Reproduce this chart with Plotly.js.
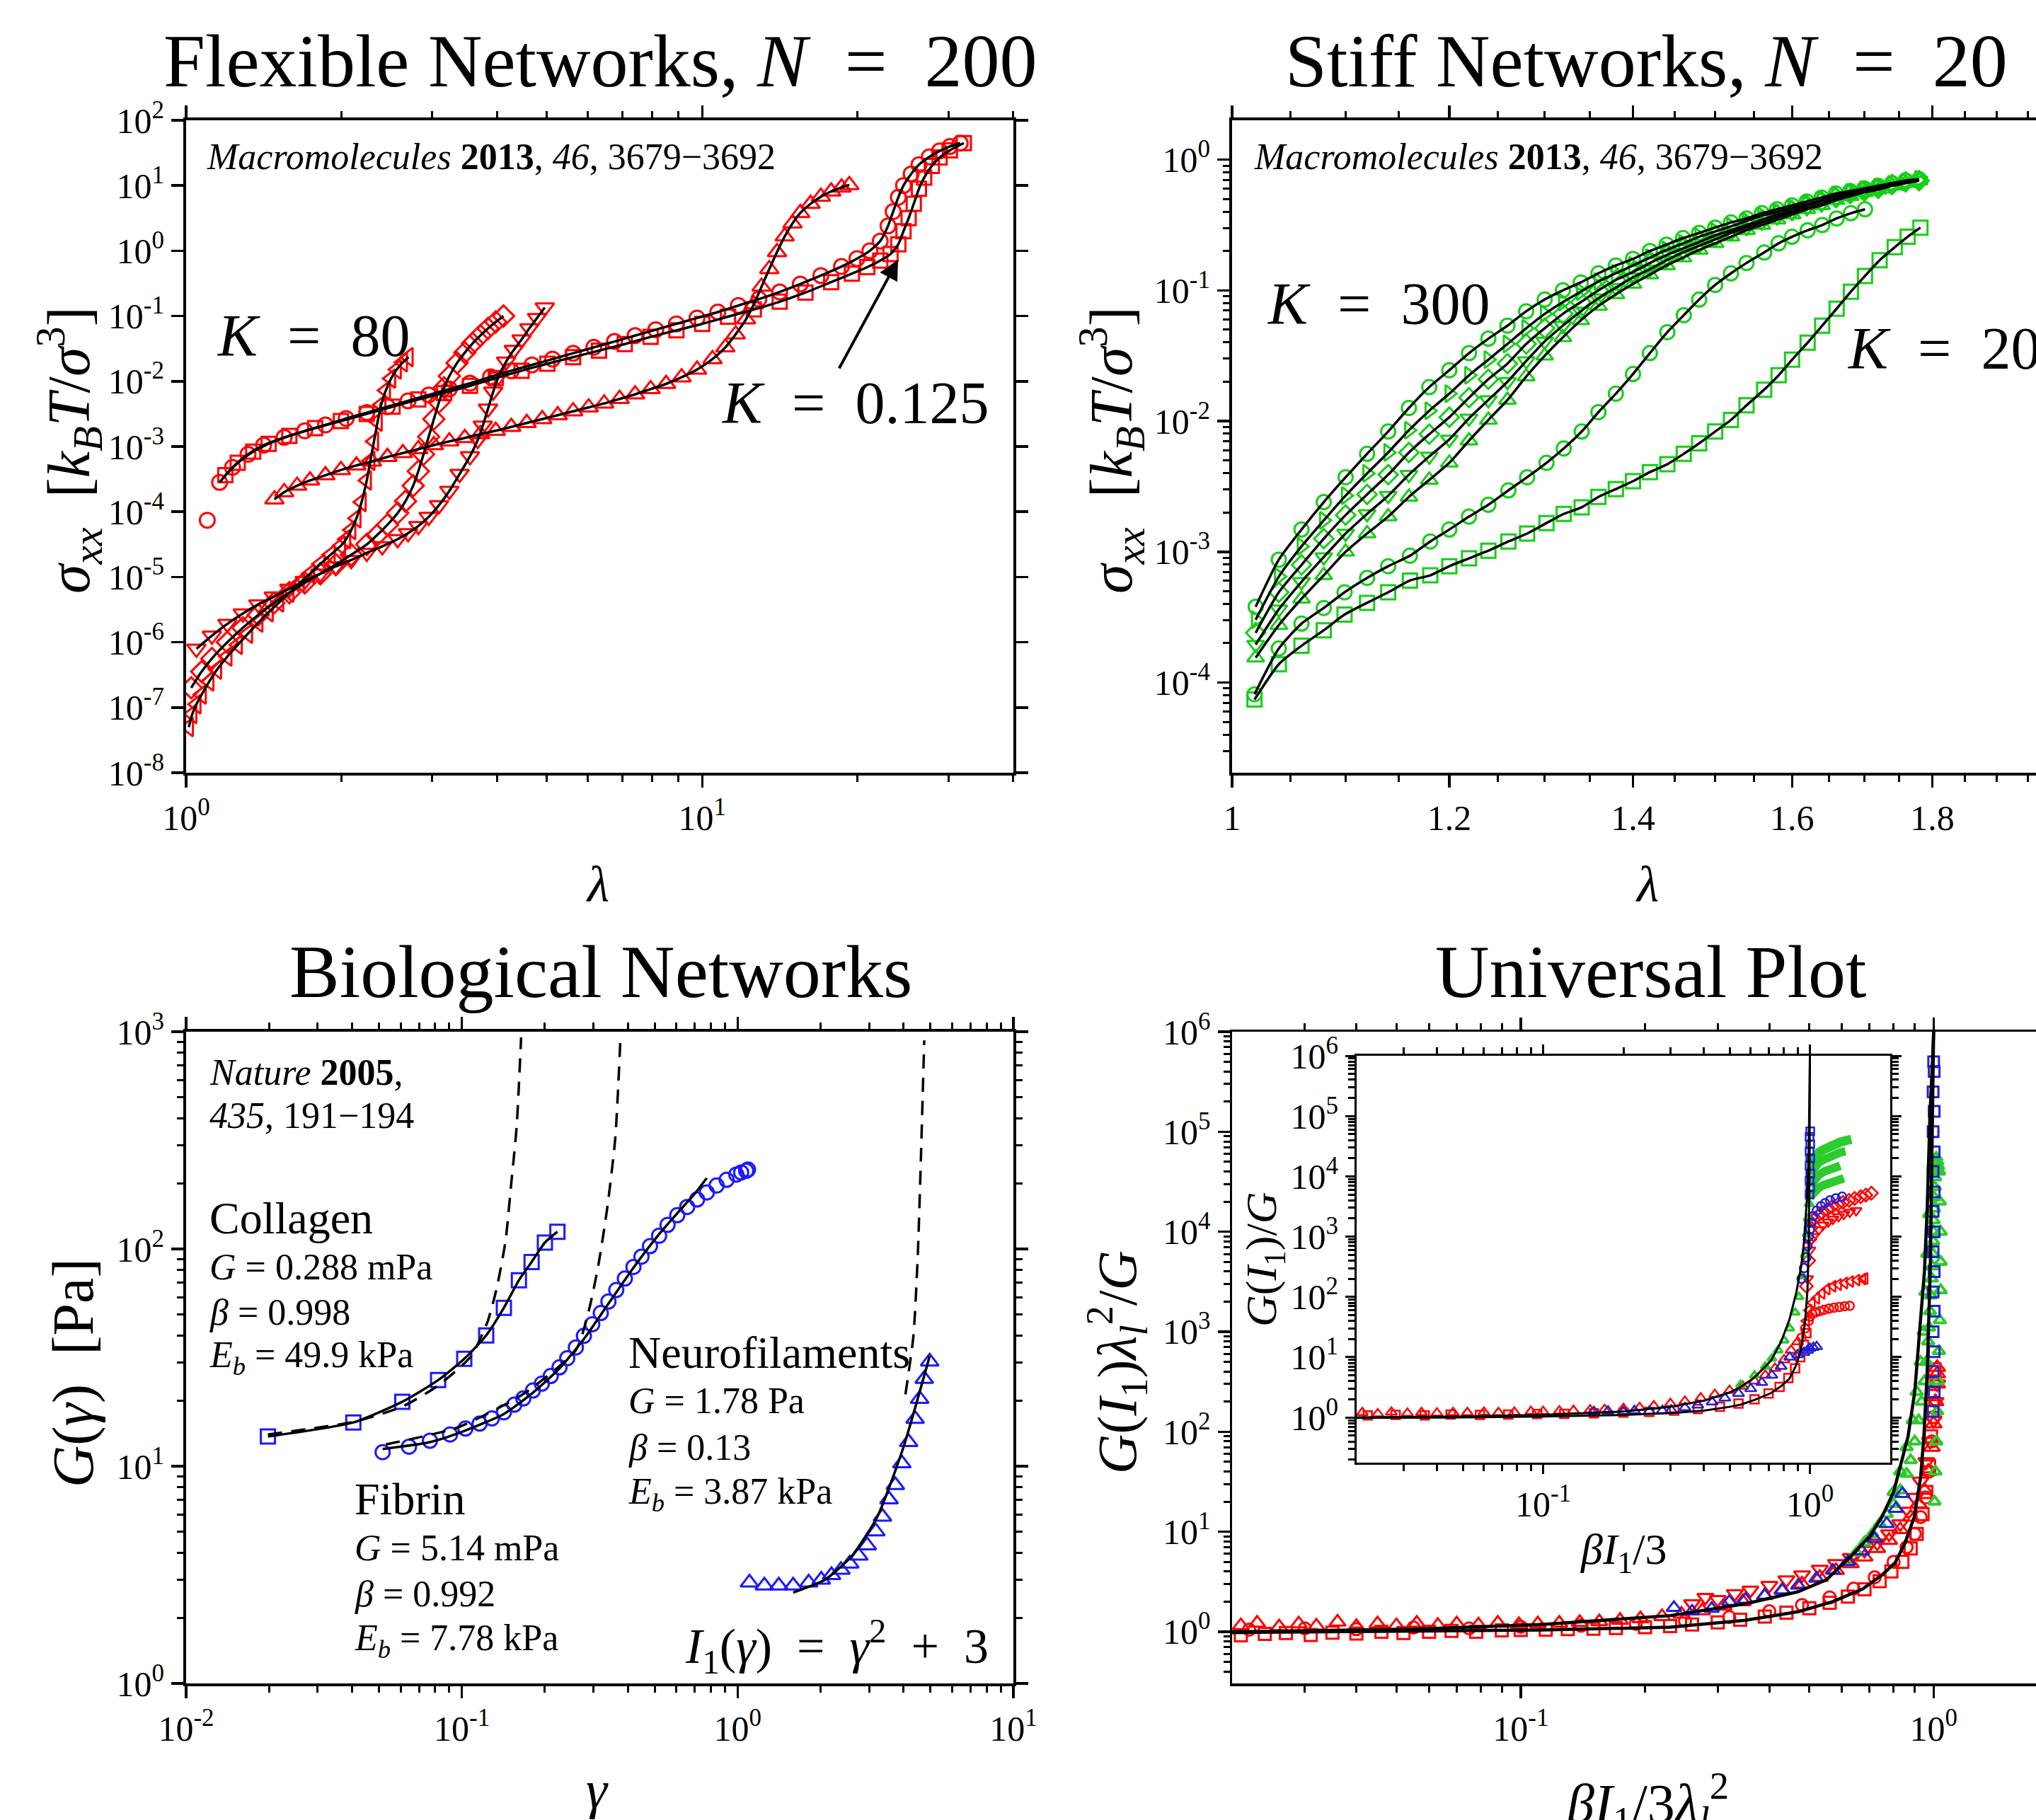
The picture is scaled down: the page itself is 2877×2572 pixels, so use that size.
<!DOCTYPE html>
<html><head><meta charset="utf-8">
<script src="https://cdn.plot.ly/plotly-3.0.1.min.js"></script>
<style>html,body{margin:0;padding:0;overflow:hidden;background:#fff;width:2877px;height:2572px;}#chart{width:3000px;height:2650px;}</style>
</head><body><div id="chart"></div>
<script>
// ---------------- Panel 1: Flexible networks (lambda, sigma_xx) ----------------
const fnSqLam = [1.191,1.259,1.349,1.445,1.585,1.778,1.995,2.239,2.512,2.818,3.162,3.548,3.981,4.467,5.012,5.623,6.310,7.079,7.943,8.913,10.0,11.22,12.59,14.13,15.85,17.78,19.50,20.89,22.13,23.17,23.99,24.55,25.12,25.70,26.30,26.92,27.86,28.84,30.20,32.14];
const fnSqSig = [3.63e-4,5.62e-4,8.32e-4,1.10e-3,1.45e-3,1.91e-3,2.45e-3,3.16e-3,4.07e-3,5.25e-3,6.61e-3,8.51e-3,0.0112,0.0145,0.0186,0.0234,0.0295,0.0372,0.0479,0.0603,0.0759,0.0977,0.126,0.166,0.229,0.331,0.447,0.562,0.708,0.891,1.26,2.00,3.16,5.25,8.91,13.2,20.0,26.9,34.7,44.7];
const fnCiLam = [1.099,1.161,1.230,1.318,1.413,1.549,1.698,1.862,2.042,2.239,2.455,2.692,2.951,3.236,3.548,3.890,4.266,4.677,5.129,5.623,6.166,6.761,7.413,8.128,8.913,9.772,10.72,11.75,12.88,14.13,15.49,16.98,18.62,19.95,21.13,22.13,22.91,23.44,23.99,24.55,25.41,26.30,27.54,28.84,30.20,31.62];
const fnCiSig = [7.41e-5,2.82e-4,4.79e-4,7.59e-4,1.05e-3,1.38e-3,1.74e-3,2.14e-3,2.69e-3,3.31e-3,4.07e-3,5.01e-3,6.17e-3,7.59e-3,9.33e-3,0.0117,0.0145,0.0178,0.0219,0.0269,0.0331,0.0407,0.0501,0.0617,0.0759,0.0933,0.115,0.145,0.182,0.234,0.309,0.417,0.575,0.759,1.00,1.41,2.40,3.98,6.61,10.0,15.1,20.9,27.5,33.9,39.8,44.7];
const fnTuLam = [1.483,1.549,1.641,1.738,1.862,1.995,2.138,2.291,2.455,2.630,2.818,3.020,3.236,3.467,3.715,3.981,4.266,4.571,4.898,5.248,5.623,6.026,6.457,6.918,7.413,7.943,8.511,9.120,9.772,10.47,11.09,11.61,12.16,12.59,13.03,13.49,13.96,14.45,14.96,15.49,16.22,16.98,17.78,18.62,19.28];
const fnTuSig = [1.55e-4,2.00e-4,2.51e-4,3.02e-4,3.63e-4,4.37e-4,5.13e-4,5.89e-4,6.92e-4,7.94e-4,9.12e-4,1.05e-3,1.20e-3,1.35e-3,1.55e-3,1.74e-3,2.00e-3,2.29e-3,2.63e-3,3.02e-3,3.47e-3,3.98e-3,4.57e-3,5.37e-3,6.31e-3,7.59e-3,9.12e-3,0.0115,0.0151,0.0219,0.0331,0.0525,0.0891,0.151,0.282,0.525,0.955,1.66,2.63,3.80,5.25,6.76,8.13,9.33,10.2];
const fnTdLam = [1.047,1.122,1.202,1.288,1.380,1.479,1.585,1.698,1.820,1.950,2.089,2.239,2.399,2.570,2.692,2.818,2.951,3.090,3.236,3.388,3.548,3.673,3.758,3.846,3.936,4.027,4.169,4.315,4.467,4.624,4.786,4.955];
const fnTdSig = [7.94e-7,1.26e-6,1.91e-6,2.75e-6,3.80e-6,5.01e-6,6.61e-6,8.71e-6,1.12e-5,1.45e-5,1.82e-5,2.34e-5,2.95e-5,3.80e-5,4.68e-5,6.03e-5,8.32e-5,1.26e-4,2.09e-4,3.80e-4,7.08e-4,1.26e-3,2.09e-3,3.80e-3,6.92e-3,0.0117,0.0200,0.0302,0.0437,0.0646,0.0933,0.135];
const fnDiLam = [1.023,1.072,1.122,1.202,1.288,1.380,1.479,1.585,1.698,1.820,1.950,2.089,2.239,2.344,2.455,2.570,2.661,2.754,2.818,2.884,2.951,3.020,3.090,3.162,3.236,3.350,3.467,3.589,3.715,3.846,3.981,4.121];
const fnDiSig = [2.00e-7,3.55e-7,5.62e-7,1.00e-6,1.66e-6,2.63e-6,3.98e-6,5.75e-6,8.13e-6,1.12e-5,1.55e-5,2.19e-5,3.16e-5,4.37e-5,6.31e-5,9.55e-5,1.45e-4,2.51e-4,4.17e-4,7.59e-4,1.41e-3,2.63e-3,4.79e-3,7.94e-3,0.0120,0.0191,0.0275,0.0380,0.0501,0.0646,0.0813,0.100];
const fnTlLam = [1.012,1.028,1.047,1.072,1.109,1.148,1.202,1.259,1.318,1.380,1.445,1.514,1.585,1.660,1.738,1.820,1.905,1.995,2.042,2.089,2.138,2.188,2.239,2.275,2.312,2.350,2.388,2.438,2.495,2.559,2.630,2.698];
const fnTlSig = [5.01e-8,7.94e-8,1.12e-7,1.58e-7,2.51e-7,3.80e-7,6.03e-7,9.12e-7,1.35e-6,2.00e-6,2.88e-6,4.07e-6,5.75e-6,8.13e-6,1.12e-5,1.58e-5,2.19e-5,3.02e-5,3.80e-5,5.25e-5,7.94e-5,1.41e-4,3.02e-4,6.03e-4,1.20e-3,2.40e-3,4.37e-3,7.24e-3,0.0110,0.0151,0.0195,0.0234];

// ---------------- Panel 2: Stiff networks ----------------
const stLam = [1.02,1.04,1.06,1.08,1.10,1.12,1.14,1.16,1.18,1.20,1.22,1.24,1.26,1.28,1.30,1.32,1.34,1.36,1.38,1.40,1.42,1.44,1.46,1.48,1.50,1.52,1.54,1.56,1.58,1.60,1.62,1.64,1.66,1.68,1.70,1.72,1.74,1.76,1.78];
const stS1 = [3.80e-4,8.71e-4,1.48e-3,2.40e-3,3.72e-3,5.62e-3,8.32e-3,0.0126,0.0182,0.0245,0.0331,0.0427,0.0537,0.0692,0.0851,0.100,0.115,0.135,0.155,0.174,0.200,0.224,0.251,0.275,0.302,0.331,0.355,0.389,0.417,0.447,0.479,0.513,0.550,0.575,0.603,0.631,0.661,0.692,0.708];
const stS2 = [3.02e-4,6.46e-4,1.10e-3,1.74e-3,2.69e-3,3.98e-3,5.75e-3,8.51e-3,0.0120,0.0162,0.0224,0.0295,0.0389,0.0513,0.0661,0.0813,0.0977,0.117,0.135,0.155,0.178,0.204,0.229,0.257,0.282,0.309,0.339,0.372,0.398,0.427,0.457,0.490,0.537,0.562,0.589,0.617,0.646,0.676,0.708];
const stS3 = [2.40e-4,4.90e-4,7.94e-4,1.26e-3,1.91e-3,2.75e-3,3.89e-3,5.75e-3,7.94e-3,0.0107,0.0151,0.0209,0.0275,0.0389,0.0513,0.0661,0.0813,0.100,0.120,0.138,0.162,0.186,0.209,0.234,0.263,0.288,0.316,0.347,0.380,0.407,0.447,0.479,0.513,0.550,0.575,0.603,0.646,0.676,0.692];
const stS4 = [1.95e-4,3.63e-4,5.89e-4,9.12e-4,1.38e-3,1.95e-3,2.69e-3,3.89e-3,5.37e-3,7.24e-3,0.0105,0.0145,0.0200,0.0288,0.0407,0.0537,0.0692,0.0871,0.105,0.126,0.145,0.170,0.195,0.219,0.245,0.275,0.302,0.331,0.363,0.398,0.427,0.457,0.501,0.537,0.575,0.603,0.631,0.661,0.692];
const stS5 = [1.55e-4,2.75e-4,4.37e-4,6.61e-4,1.00e-3,1.38e-3,1.86e-3,2.63e-3,3.55e-3,4.79e-3,7.08e-3,0.0102,0.0145,0.0219,0.0316,0.0437,0.0589,0.0759,0.0933,0.112,0.132,0.155,0.178,0.204,0.229,0.257,0.288,0.316,0.347,0.380,0.417,0.447,0.490,0.525,0.562,0.589,0.631,0.661,0.692];
const stCiLam = [1.019,1.040,1.060,1.080,1.099,1.120,1.140,1.161,1.181,1.200,1.220,1.240,1.261,1.281,1.302,1.321,1.341,1.360,1.380,1.400,1.420,1.441,1.461,1.480,1.500,1.520,1.540,1.563,1.582,1.600,1.621,1.641,1.661,1.681,1.701];
const stCiSig = [8.13e-5,1.82e-4,2.82e-4,3.72e-4,4.90e-4,6.31e-4,7.76e-4,9.33e-4,1.20e-3,1.48e-3,1.86e-3,2.29e-3,2.95e-3,3.72e-3,4.79e-3,6.17e-3,8.32e-3,0.0117,0.0162,0.0229,0.0331,0.0479,0.0646,0.0851,0.110,0.135,0.162,0.195,0.229,0.257,0.288,0.316,0.355,0.389,0.417];
const stSqLam = [1.019,1.040,1.060,1.080,1.099,1.120,1.140,1.161,1.181,1.200,1.220,1.240,1.261,1.281,1.302,1.321,1.341,1.360,1.380,1.400,1.420,1.441,1.461,1.480,1.500,1.520,1.540,1.563,1.582,1.600,1.621,1.641,1.661,1.681,1.701,1.722,1.744,1.763,1.782];
const stSqSig = [7.41e-5,1.38e-4,1.91e-4,2.51e-4,3.31e-4,4.07e-4,4.90e-4,6.03e-4,6.61e-4,7.76e-4,8.91e-4,1.02e-3,1.20e-3,1.38e-3,1.66e-3,1.95e-3,2.19e-3,2.63e-3,3.02e-3,3.47e-3,4.07e-3,4.68e-3,5.62e-3,6.76e-3,8.32e-3,0.0102,0.0132,0.0174,0.0224,0.0295,0.0398,0.0537,0.0724,0.0977,0.129,0.170,0.214,0.257,0.302];

// ---------------- Panel 3: Biological networks (gamma, G) ----------------
const bioColG = [0.0198,0.0404,0.0608,0.082,0.102,0.1225,0.142,0.161,0.179,0.200,0.222];
const bioColV = [13.7,15.9,19.8,24.9,31.2,40.0,53.6,71.8,87.1,107,120];
const bioColDashG = [0.0198,0.0404,0.0608,0.082,0.108,0.124,0.134,0.144,0.151,0.158,0.164];
const bioColDashV = [14.0,16.0,18.8,23.5,32.1,46.4,66.7,109,200,366,942];
const bioFibG = [0.0516,0.0643,0.0766,0.0906,0.103,0.116,0.1285,0.142,0.155,0.167,0.181,0.195,0.210,0.226,0.241,0.259,0.277,0.297,0.319,0.340,0.363,0.390,0.419,0.448,0.481,0.519,0.557,0.604,0.656,0.713,0.773,0.839,0.912,0.989,1.03,1.074,1.09];
const bioFibV = [11.6,12.3,13.1,14.0,14.9,15.7,16.6,17.7,19.2,20.5,22.3,24.0,26.0,28.5,31.4,35.2,39.8,45.0,50.7,57.3,64.7,73.1,82.6,92.1,103,115,129,143,156,169,182,196,208,220,225,229,232];
const bioFibFitG = [0.0516,0.0766,0.103,0.142,0.181,0.226,0.277,0.340,0.419,0.519,0.604,0.70,0.773];
const bioFibFitV = [12.0,12.9,14.6,17.4,21.8,28.2,38.5,56.0,82.0,117,146,180,212];
const bioFibDashG = [0.053,0.0968,0.167,0.259,0.289,0.313,0.337,0.36,0.376];
const bioFibDashV = [12.6,15.1,21.5,34.2,52.4,85,156,324,942];
const bioNeuG = [1.104,1.25,1.41,1.59,1.81,2.01,2.19,2.37,2.55,2.75,2.95,3.17,3.35,3.54,3.73,3.94,4.17,4.40,4.57,4.75,4.97];
const bioNeuV = [2.91,2.82,2.82,2.82,2.91,3.00,3.15,3.33,3.56,3.87,4.32,5.01,5.85,7.03,8.18,10.3,12.9,16.5,20.4,25.2,30.3];
const bioNeuFitG = [1.59,2.07,2.58,3.21,3.99,4.97];
const bioNeuFitV = [2.62,3.0,3.83,5.85,12.2,32.1];
const bioNeuDashG = [4.06,4.34,4.50,4.62,4.75];
const bioNeuDashV = [21.4,39.8,93.3,263,912];

// ---------------- Panel 4: Universal plot ----------------
const p4FitAX = [0.02,0.055,0.112,0.23,0.35,0.471,0.55,0.627,0.70,0.75,0.80,0.867,0.90,0.931,0.95,0.965,0.98,0.993,1.0];
const p4FitAY = [1.0,1.06,1.18,1.45,1.9,2.52,3.3,5.57,9.0,14.1,25,89.5,250,1260,4000,17700,1.5e5,4.8e5,1e6];
const p4FitBX = [0.02,0.112,0.23,0.35,0.471,0.57,0.674,0.75,0.806,0.85,0.898,0.93,0.947,0.965,0.982,0.993,1.0];
const p4FitBY = [0.98,1.04,1.11,1.3,1.59,2.0,2.69,3.7,4.88,7.5,14.1,35,89.5,400,4700,1e5,1e6];
const p4R1X = [0.021,0.023,0.026,0.029,0.032,0.036,0.040,0.045,0.050,0.056,0.063,0.070,0.079,0.088,0.099,0.11,0.124,0.139,0.155,0.174,0.195,0.22,0.245,0.275,0.31,0.345,0.39,0.43,0.48,0.53,0.58,0.63,0.68,0.73,0.78,0.83,0.88,0.92,0.95,0.97,0.99,1.0,1.01,1.02,1.02,1.02];
const p4R1Y = [1.15,1.22,1.12,1.2,1.14,1.25,1.13,1.2,1.15,1.22,1.16,1.2,1.17,1.22,1.18,1.2,1.22,1.24,1.26,1.3,1.35,1.42,1.5,1.62,1.8,2.0,2.3,2.6,3.0,3.5,4.1,4.8,5.6,6.8,8.2,10.5,14,19,26,40,70,120,200,300,380,440];
const p4R2X = [0.021,0.024,0.027,0.031,0.035,0.04,0.046,0.052,0.06,0.068,0.078,0.09,0.10,0.115,0.13,0.15,0.17,0.2,0.23,0.26,0.3,0.34,0.39,0.44,0.5,0.56,0.62,0.68,0.74,0.79,0.84,0.88,0.91,0.94,0.96,0.975,0.985,0.993,1.0,1.005];
const p4R2Y = [0.92,0.95,0.97,0.93,0.98,0.96,1.0,0.97,1.0,1.02,1.0,1.03,1.04,1.05,1.06,1.07,1.09,1.11,1.14,1.18,1.24,1.32,1.42,1.55,1.72,1.95,2.25,2.65,3.2,4.0,5.0,6.8,9.5,15,25,45,90,180,300,420];
const p4R3X = [0.022,0.03,0.04,0.055,0.075,0.1,0.14,0.19,0.25,0.32,0.4,0.48,0.56,0.64,0.72,0.8,0.86,0.9,0.93,0.955,0.975,0.99,1.0];
const p4R3Y = [1.05,1.08,1.06,1.1,1.08,1.12,1.15,1.2,1.28,1.4,1.6,1.85,2.2,2.7,3.5,5.0,7.0,9.5,14,22,40,80,140];
const p4R4X = [0.26,0.28,0.3,0.33,0.36,0.4,0.44,0.48,0.53,0.58,0.63,0.68,0.73,0.78,0.83,0.87,0.9,0.93,0.96,0.98,1.0,1.01,1.02];
const p4R4Y = [1.9,2.2,2.1,2.4,2.6,2.9,3.3,3.7,4.2,4.8,5.5,6.5,7.7,9.5,12,16,22,32,50,80,130,200,300];
const p4BTuX = [0.235,0.26,0.29,0.32,0.35,0.39,0.43,0.47,0.52,0.57,0.62,0.67,0.72,0.77,0.81,0.84];
const p4BTuY = [1.74,1.6,1.7,2.0,2.1,2.3,2.6,2.9,3.4,4.1,5.0,6.4,8.5,12,17,24];
const p4BSqX = [0.997,1.003,0.997,1.003,0.997,1.003,0.997,1.003,0.997,1.003,0.997,1.003,0.997,1.003,0.997,1.003,0.997,1.003,1.0];
const p4BSqY = [160,250,400,630,1000,1600,2500,4000,6300,1e4,1.6e4,2.5e4,4e4,6.3e4,1e5,1.6e5,2.5e5,4e5,5e5];
const p4GrX = [0.62,0.65,0.68,0.71,0.74,0.77,0.8,0.83,0.86,0.88,0.9,0.92,0.935,0.95,0.96,0.97,0.975,0.98,0.985,0.99,0.993,0.996,0.998,1.0,1.0,1.002,1.004,1.006,1.008,1.01,1.012,1.015,1.02,1.025,1.03];
const p4GrY = [5.0,6.2,7.8,9.5,12,15,19,26,38,52,80,130,200,320,500,800,1100,1600,2300,3400,4500,6000,8000,1e4,1.3e4,1.7e4,2.2e4,2.8e4,3.5e4,4.2e4,4.8e4,5.5e4,5e4,4.5e4,4e4];
const p4Gr2X = [1.005,1.01,1.015,1.02,1.025,1.03,1.035,1.04,1.04,1.04,1.035,1.03];
const p4Gr2Y = [20,40,80,160,320,640,1300,2600,5000,1e4,2e4,4e4];
const p4Gr3X = [0.80,0.83,0.86,0.89,0.91,0.93,0.945,0.955,0.965,0.975];
const p4Gr3Y = [25,40,70,130,250,500,1000,2500,6000,1.5e4];

// ---------------- Inset of panel 4 ----------------
const inFitAX = [0.02,0.05,0.1,0.2,0.3,0.4,0.5,0.55,0.62,0.714,0.78,0.838,0.89,0.927,0.95,0.966,0.98,0.99,0.997,1.0];
const inFitAY = [1.0,1.04,1.1,1.25,1.5,1.9,2.6,3.2,4.6,8.7,18,42,120,320,800,2100,6000,3e4,2e5,1e6];
const inFitBX = [0.02,0.05,0.1,0.2,0.3,0.4,0.5,0.55,0.62,0.714,0.78,0.838,0.89,0.927,0.96,0.979,0.99,0.997,1.0];
const inFitBY = [0.98,1.0,1.04,1.1,1.18,1.3,1.5,1.63,1.95,2.53,3.3,4.4,7.5,13.9,40,129,700,2e4,1e6];
const inR1X = [0.021,0.024,0.027,0.031,0.035,0.04,0.046,0.052,0.06,0.068,0.078,0.09,0.1,0.115,0.13,0.15,0.17,0.2,0.23,0.26,0.3,0.34,0.39,0.44,0.5,0.56,0.62,0.68,0.74,0.8,0.85,0.9];
const inR1Y = [1.2,1.15,1.22,1.17,1.2,1.18,1.2,1.2,1.22,1.2,1.22,1.25,1.25,1.28,1.3,1.33,1.35,1.4,1.45,1.55,1.7,1.85,2.1,2.4,2.8,3.3,4.0,5.0,6.5,9,13,18];
const inR2X = [0.022,0.028,0.036,0.045,0.058,0.074,0.095,0.12,0.155,0.2,0.25,0.31,0.38,0.46,0.54,0.62,0.7,0.77,0.83,0.88,0.92,0.95,0.97];
const inR2Y = [1.08,1.1,1.08,1.12,1.1,1.12,1.14,1.15,1.17,1.2,1.24,1.3,1.38,1.5,1.7,2.0,2.5,3.2,4.5,6.5,10,16,25];
const inRDiX = [0.97,0.99,1.0,1.01,1.03,1.07,1.11,1.16,1.21,1.27,1.33,1.40,1.47,1.55,1.62,1.70];
const inRDiY = [150,400,900,1400,1900,2200,2500,2800,3100,3400,3700,4000,4300,4600,4900,5250];
const inRTdX = [0.98,1.0,1.03,1.08,1.12,1.17,1.22,1.28,1.34,1.41,1.49];
const inRTdY = [200,600,1000,1300,1550,1750,1950,2150,2350,2550,2700];
const inRTlX = [0.97,0.99,1.02,1.06,1.11,1.16,1.22,1.28,1.35,1.42,1.5,1.58,1.61];
const inRTlY = [40,60,80,95,115,135,150,160,170,180,190,198,202];
const inRCiX = [0.93,0.96,0.99,1.0,1.02,1.05,1.09,1.13,1.18,1.23,1.29,1.35,1.41];
const inRCiY = [21,30,40,47,52,55,58,61,64,66,68,70,71];
const inBTuX = [0.155,0.175,0.2,0.22,0.25,0.28,0.302,0.34,0.38,0.43,0.48,0.54,0.6,0.66,0.72,0.78,0.84,0.9,0.95,0.98,1.0,1.03,1.06];
const inBTuY = [1.25,1.28,1.25,1.3,1.27,1.3,1.33,1.45,1.6,1.8,2.1,2.5,3.0,3.8,5,7,10,11,12,13,14,14.5,15];
const inBSqX = [0.997,1.003,0.997,1.003,0.997,1.003,0.997,1.003,0.997,1.003];
const inBSqY = [5000,6500,8500,1.1e4,1.5e4,2e4,2.6e4,3.4e4,4.5e4,5.6e4];
const inBCiX = [0.93,0.95,0.97,0.98,0.99,1.0,1.01,1.03,1.06,1.1,1.14,1.19,1.25,1.32];
const inBCiY = [200,300,450,700,1000,1300,1700,2200,2700,3200,3600,4000,4300,4600];
const inGrX = [0.55,0.62,0.68,0.72,0.76,0.8,0.84,0.88,0.91,0.94,0.96,0.975,0.985,0.993,1.0];
const inGrY = [3.5,5,7,9.5,13,19,30,55,100,220,500,1100,2000,3500,5000];
const inF1X = [1.0,1.04,1.08,1.13,1.18,1.24,1.30,1.36,1.43];
const inF1Y = [1.6e4,2.1e4,2.5e4,2.8e4,3.1e4,3.4e4,3.7e4,3.9e4,4.1e4];
const inF2X = [1.0,1.04,1.08,1.13,1.18,1.24,1.30,1.36];
const inF2Y = [1.1e4,1.45e4,1.7e4,1.9e4,2.1e4,2.3e4,2.5e4,2.6e4];
const inF3X = [1.0,1.04,1.08,1.13,1.18,1.24,1.30];
const inF3Y = [7000,9000,1.05e4,1.2e4,1.3e4,1.4e4,1.5e4];
const inF4X = [1.0,1.04,1.08,1.13,1.18,1.24,1.30,1.34];
const inF4Y = [4500,5600,6500,7200,7800,8300,8800,9300];

// ---------------- Tick labels ----------------
const p1YTicks = [1e-8,1e-7,1e-6,1e-5,1e-4,1e-3,1e-2,1e-1,1,10,100];
const p1YLabels = ['10<sup>-8</sup>','10<sup>-7</sup>','10<sup>-6</sup>','10<sup>-5</sup>','10<sup>-4</sup>','10<sup>-3</sup>','10<sup>-2</sup>','10<sup>-1</sup>','10<sup>0</sup>','10<sup>1</sup>','10<sup>2</sup>'];
const p1XTicks = [1,10];
const p1XLabels = ['10<sup>0</sup>','10<sup>1</sup>'];
const p2YTicks = [1e-4,1e-3,1e-2,1e-1,1];
const p2YLabels = ['10<sup>-4</sup>','10<sup>-3</sup>','10<sup>-2</sup>','10<sup>-1</sup>','10<sup>0</sup>'];
const p2XTicks = [1,1.2,1.4,1.6,1.8,2];
const p2XLabels = ['1','1.2','1.4','1.6','1.8','2'];
const p3XTicks = [0.01,0.1,1,10];
const p3XLabels = ['10<sup>-2</sup>','10<sup>-1</sup>','10<sup>0</sup>','10<sup>1</sup>'];
const p3YTicks = [1,10,100,1000];
const p3YLabels = ['10<sup>0</sup>','10<sup>1</sup>','10<sup>2</sup>','10<sup>3</sup>'];
const p4XTicks = [0.1,1];
const p4XLabels = ['10<sup>-1</sup>','10<sup>0</sup>'];
const p4YTicks = [1,10,100,1e3,1e4,1e5,1e6];
const p4YLabels = ['10<sup>0</sup>','10<sup>1</sup>','10<sup>2</sup>','10<sup>3</sup>','10<sup>4</sup>','10<sup>5</sup>','10<sup>6</sup>'];

// ---------------- Layout helpers ----------------
const W = 3000, H = 2650;
const SERIF = '"Liberation Serif", "Times New Roman", serif';
const RED = '#ff0000', GREEN = '#14d014', BLUE = '#1a1aff', BLUE4 = '#2020d8', GREEN4 = '#2ccc2c';
function dX(a, b) { return [a / W, b / W]; }
function dY(top, bot) { return [1 - bot / H, 1 - top / H]; }
function decMinors(e0, e1, lo, hi) {
  const out = [];
  for (let e = e0; e <= e1; e++) for (let k = 2; k <= 9; k++) { const v = k * Math.pow(10, e); if (v > lo && v < hi) out.push(v); }
  return out;
}
function axis(domain, range, anchor, tv, tt, minorVals, fs, extra) {
  const a = {
    type: 'log', domain, range, anchor, showline: true, linecolor: '#000', linewidth: 4,
    mirror: 'allticks', ticks: 'outside', ticklen: 17, tickwidth: 3.5, tickcolor: '#000',
    tickmode: 'array', tickvals: tv, ticktext: tt,
    tickfont: {family: SERIF, size: fs || 50, color: '#000'},
    showgrid: false, zeroline: false, fixedrange: true
  };
  if (minorVals) a.minor = {tickmode: 'array', tickvals: minorVals, ticks: 'outside', ticklen: 9, tickwidth: 3, tickcolor: '#000', showgrid: false};
  return Object.assign(a, extra || {});
}
function mk(x, y, sym, color, size, xa, ya, lw) {
  return {type: 'scatter', mode: 'markers', x, y, xaxis: xa, yaxis: ya, hoverinfo: 'skip', showlegend: false,
    marker: {symbol: sym, size, color, line: {color, width: lw || 3}}};
}
function ln(x, y, xa, ya, w, dash, shape, color) {
  return {type: 'scatter', mode: 'lines', x, y, xaxis: xa, yaxis: ya, hoverinfo: 'skip', showlegend: false,
    line: {color: color || '#000', width: w || 3, dash: dash || 'solid', shape: shape || 'spline', smoothing: 0.6}};
}
function ann(text, px, py, size, o) {
  return Object.assign({text, x: px / W, y: 1 - py / H, xref: 'paper', yref: 'paper', showarrow: false,
    xanchor: 'center', yanchor: 'middle', font: {family: SERIF, size, color: '#000'}}, o || {});
}

// ---------------- Traces ----------------
const traces = [
  // panel 1
  mk(fnSqLam, fnSqSig, 'square-open', RED, 20, 'x', 'y'),
  mk(fnCiLam, fnCiSig, 'circle-open', RED, 21, 'x', 'y'),
  mk(fnTuLam, fnTuSig, 'triangle-up-open', RED, 23, 'x', 'y'),
  mk(fnTdLam, fnTdSig, 'triangle-down-open', RED, 23, 'x', 'y'),
  mk(fnDiLam, fnDiSig, 'diamond-open', RED, 23, 'x', 'y'),
  mk(fnTlLam, fnTlSig, 'triangle-left-open', RED, 23, 'x', 'y'),
  ln(fnSqLam, fnSqSig, 'x', 'y', 3.5),
  ln(fnCiLam.slice(1), fnCiSig.slice(1), 'x', 'y', 3.5),
  ln(fnTuLam, fnTuSig, 'x', 'y', 3.5),
  ln(fnTdLam, fnTdSig, 'x', 'y', 3.5),
  ln(fnDiLam, fnDiSig, 'x', 'y', 3.5),
  ln(fnTlLam, fnTlSig, 'x', 'y', 3.5),
  // panel 2
  mk(stLam, stS1, 'circle-open', GREEN, 20, 'x2', 'y2'),
  mk(stLam, stS2, 'triangle-right-open', GREEN, 21, 'x2', 'y2'),
  mk(stLam, stS3, 'diamond-open', GREEN, 21, 'x2', 'y2'),
  mk(stLam, stS4, 'triangle-down-open', GREEN, 21, 'x2', 'y2'),
  mk(stLam, stS5, 'triangle-up-open', GREEN, 21, 'x2', 'y2'),
  mk(stCiLam, stCiSig, 'circle-open', GREEN, 20, 'x2', 'y2'),
  mk(stSqLam, stSqSig, 'square-open', GREEN, 20, 'x2', 'y2'),
  ln(stLam, stS1, 'x2', 'y2', 3.5), ln(stLam, stS2, 'x2', 'y2', 3.5), ln(stLam, stS3, 'x2', 'y2', 3.5),
  ln(stLam, stS4, 'x2', 'y2', 3.5), ln(stLam, stS5, 'x2', 'y2', 3.5),
  ln(stCiLam, stCiSig, 'x2', 'y2', 3.5), ln(stSqLam, stSqSig, 'x2', 'y2', 3.5),
  // panel 3
  mk(bioColG, bioColV, 'square-open', BLUE, 20, 'x3', 'y3'),
  mk(bioFibG, bioFibV, 'circle-open', BLUE, 20, 'x3', 'y3'),
  mk(bioNeuG, bioNeuV, 'triangle-up-open', BLUE, 22, 'x3', 'y3'),
  ln(bioColG, bioColV, 'x3', 'y3', 3.5),
  ln(bioFibFitG, bioFibFitV, 'x3', 'y3', 3.5),
  ln(bioNeuFitG, bioNeuFitV, 'x3', 'y3', 3.5),
  ln(bioColDashG, bioColDashV, 'x3', 'y3', 3.5, '20px,13px'),
  ln(bioFibDashG, bioFibDashV, 'x3', 'y3', 3.5, '20px,13px'),
  ln(bioNeuDashG, bioNeuDashV, 'x3', 'y3', 3.5, '20px,13px'),
  // panel 4 main
  mk(p4R2X, p4R2Y, 'square-open', RED, 17, 'x4', 'y4', 3),
  mk(p4R3X, p4R3Y, 'circle-open', RED, 17, 'x4', 'y4', 3),
  mk(p4R1X, p4R1Y, 'triangle-up-open', RED, 20, 'x4', 'y4', 3),
  mk(p4R4X, p4R4Y, 'triangle-down-open', RED, 20, 'x4', 'y4', 3),
  mk(p4Gr3X, p4Gr3Y, 'triangle-up-open', GREEN4, 15, 'x4', 'y4', 4),
  mk(p4GrX, p4GrY, 'triangle-up-open', GREEN4, 15, 'x4', 'y4', 4),
  mk(p4Gr2X, p4Gr2Y, 'triangle-up-open', GREEN4, 15, 'x4', 'y4', 4),
  mk(p4BTuX, p4BTuY, 'triangle-up-open', BLUE4, 18, 'x4', 'y4', 3),
  mk(p4BSqX, p4BSqY, 'square-open', BLUE4, 15, 'x4', 'y4', 3),
  ln(p4FitAX, p4FitAY, 'x4', 'y4', 4.5, 'solid', 'linear'),
  ln(p4FitBX, p4FitBY, 'x4', 'y4', 4.5, 'solid', 'linear'),
  // inset
  mk(inR2X, inR2Y, 'square-open', RED, 12, 'x5', 'y5', 2.5),
  mk(inR1X, inR1Y, 'triangle-up-open', RED, 14, 'x5', 'y5', 2.5),
  mk(inRDiX, inRDiY, 'diamond-open', RED, 14, 'x5', 'y5', 2.5),
  mk(inRTdX, inRTdY, 'triangle-down-open', RED, 14, 'x5', 'y5', 2.5),
  mk(inRTlX, inRTlY, 'triangle-left-open', RED, 14, 'x5', 'y5', 2.5),
  mk(inRCiX, inRCiY, 'circle-open', RED, 12, 'x5', 'y5', 2.5),
  mk(inGrX, inGrY, 'triangle-up-open', GREEN4, 11, 'x5', 'y5', 3.5),
  ln(inF1X, inF1Y, 'x5', 'y5', 13, 'solid', 'linear', GREEN4),
  ln(inF2X, inF2Y, 'x5', 'y5', 12, 'solid', 'linear', GREEN4),
  ln(inF3X, inF3Y, 'x5', 'y5', 12, 'solid', 'linear', GREEN4),
  ln(inF4X, inF4Y, 'x5', 'y5', 12, 'solid', 'linear', GREEN4),
  mk(inBCiX, inBCiY, 'circle-open', BLUE4, 12, 'x5', 'y5', 2.5),
  mk(inBTuX, inBTuY, 'triangle-up-open', BLUE4, 14, 'x5', 'y5', 2.5),
  mk(inBSqX, inBSqY, 'square-open', BLUE4, 11, 'x5', 'y5', 2.5),
  ln(inFitAX, inFitAY, 'x5', 'y5', 3, 'solid', 'linear'),
  ln(inFitBX, inFitBY, 'x5', 'y5', 3, 'solid', 'linear')
];

// ---------------- Layout ----------------
const p2XMinor = [1.05,1.1,1.15,1.25,1.3,1.35,1.45,1.5,1.55,1.65,1.7,1.75,1.85,1.9,1.95];
const layout = {
  width: W, height: H, margin: {l: 0, r: 0, t: 0, b: 0}, paper_bgcolor: '#fff', plot_bgcolor: '#fff',
  showlegend: false, font: {family: SERIF, color: '#000'},
  xaxis: axis(dX(263, 1432), [0, 1.603], 'y', p1XTicks, p1XLabels, decMinors(0, 1, 1, 45)),
  yaxis: axis(dY(170, 1092), [-8, 2], 'x', p1YTicks, p1YLabels, null),
  xaxis2: axis(dX(1741, 2908), [0, 0.30103], 'y2', p2XTicks, p2XLabels, p2XMinor),
  yaxis2: axis(dY(170, 1092), [-4.69, 0.30103], 'x2', p2YTicks, p2YLabels, decMinors(-5, 0, 2e-5, 2)),
  xaxis3: axis(dX(263, 1432), [-2, 1], 'y3', p3XTicks, p3XLabels, decMinors(-2, 0, 0.01, 10)),
  yaxis3: axis(dY(1458, 2379), [0, 3], 'x3', p3YTicks, p3YLabels, decMinors(0, 2, 1, 1000)),
  xaxis4: axis(dX(1741, 2908), [-1.699, 0.30103], 'y4', p4XTicks, p4XLabels, decMinors(-2, 0, 0.02, 2), 50, {linewidth: 3.5}),
  yaxis4: axis(dY(1458, 2379), [-0.517, 6], 'x4', p4YTicks, p4YLabels, decMinors(-1, 5, 0.3, 1e6), 50, {linewidth: 3.5}),
  xaxis5: axis(dX(1917, 2671), [-1.699, 0.301], 'y5', p4XTicks, p4XLabels, decMinors(-2, 0, 0.02, 2), 50, {linewidth: 3, ticklen: 13, tickwidth: 3}),
  yaxis5: axis(dY(1492, 2067), [-0.75, 6.0], 'x5', p4YTicks, p4YLabels, decMinors(-1, 5, 0.18, 1e6), 50, {linewidth: 3, ticklen: 13, tickwidth: 3}),
  annotations: [
    ann('Flexible Networks, <i>N</i>\u2002=\u2002200', 848, 86, 106),
    ann('Stiff Networks, <i>N</i>\u2002=\u200220', 2326, 86, 106),
    ann('Biological Networks', 849, 1374, 106),
    ann('Universal Plot', 2332, 1374, 106),
    ann('<i>Macromolecules</i> <b>2013</b>, <i>46</i>, 3679\u22123692', 290, 222, 52, {xanchor: 'left'}),
    ann('<i>Macromolecules</i> <b>2013</b>, <i>46</i>, 3679\u22123692', 1770, 222, 52, {xanchor: 'left'}),
    ann('<i>K</i>\u2002=\u200280', 305, 474, 84, {xanchor: 'left'}),
    ann('<i>K</i>\u2002=\u20020.125', 1018, 569, 84, {xanchor: 'left'}),
    ann('<i>K</i>\u2002=\u2002300', 1789, 430, 84, {xanchor: 'left'}),
    ann('<i>K</i>\u2002=\u200220', 2609, 492, 84, {xanchor: 'left'}),
    {x: 1269 / W, y: 1 - 367 / H, xref: 'paper', yref: 'paper', text: '', showarrow: true, arrowhead: 2, arrowsize: 1.4, arrowwidth: 4, arrowcolor: '#000', ax: -84, ay: 155, axref: 'pixel', ayref: 'pixel'},
    ann('<i>λ</i>', 844, 1250, 72),
    ann('<i>λ</i>', 2327, 1250, 72),
    ann('<i>σ</i><sub><i>xx</i></sub>\u2002[<i>k</i><sub><i>B</i></sub><i>T</i>/<i>σ</i><sup>3</sup>]', 98, 636, 84, {textangle: -90}),
    ann('<i>σ</i><sub><i>xx</i></sub>\u2002[<i>k</i><sub><i>B</i></sub><i>T</i>/<i>σ</i><sup>3</sup>]', 1571, 636, 84, {textangle: -90}),
    ann('<i>Nature</i> <b>2005</b>,', 294, 1515, 52, {xanchor: 'left'}),
    ann('<i>435</i>, 191\u2212194', 294, 1576, 52, {xanchor: 'left'}),
    ann('Collagen', 294, 1721, 64, {xanchor: 'left'}),
    ann('<i>G</i> = 0.288 mPa', 294, 1790, 52, {xanchor: 'left'}),
    ann('<i>β</i> = 0.998', 294, 1855, 52, {xanchor: 'left'}),
    ann('<i>E<sub>b</sub></i> = 49.9 kPa', 294, 1918, 52, {xanchor: 'left'}),
    ann('Fibrin', 499, 2118, 64, {xanchor: 'left'}),
    ann('<i>G</i> = 5.14 mPa', 499, 2187, 52, {xanchor: 'left'}),
    ann('<i>β</i> = 0.992', 499, 2252, 52, {xanchor: 'left'}),
    ann('<i>E<sub>b</sub></i> = 7.78 kPa', 499, 2318, 52, {xanchor: 'left'}),
    ann('Neurofilaments', 886, 1911, 64, {xanchor: 'left'}),
    ann('<i>G</i> = 1.78 Pa', 886, 1980, 52, {xanchor: 'left'}),
    ann('<i>β</i> = 0.13', 886, 2045, 52, {xanchor: 'left'}),
    ann('<i>E<sub>b</sub></i> = 3.87 kPa', 886, 2111, 52, {xanchor: 'left'}),
    ann('<i>I</i><sub>1</sub>(<i>γ</i>)\u2002=\u2002<i>γ</i><sup>2</sup>\u2002+\u20023', 1399, 2326, 70, {xanchor: 'right'}),
    ann('<i>γ</i>', 844, 2529, 76),
    ann('<i>G</i>(<i>γ</i>)\u2002[Pa]', 104, 1940, 82, {textangle: -90}),
    ann('<i>G</i>(<i>I</i><sub>1</sub>)<i>λ</i><sub><i>l</i></sub><sup>2</sup>/<i>G</i>', 1578, 1925, 78, {textangle: -90}),
    ann('<i>βI</i><sub>1</sub>/3<i>λ</i><sub><i>l</i></sub><sup>2</sup>', 2327, 2548, 78),
    ann('<i>G</i>(<i>I</i><sub>1</sub>)/<i>G</i>', 1786, 1780, 62, {textangle: -90}),
    ann('<i>βI</i><sub>1</sub>/3', 2294, 2193, 62)
  ]
};

Plotly.newPlot('chart', traces, layout, {staticPlot: true, displayModeBar: false});
</script>
</body></html>
